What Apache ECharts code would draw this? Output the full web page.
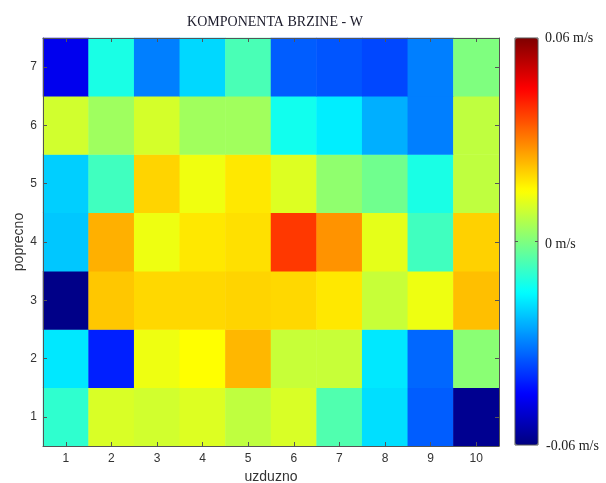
<!DOCTYPE html>
<html>
<head>
<meta charset="utf-8">
<script src="https://cdn.jsdelivr.net/npm/echarts@6/dist/echarts.min.js"></script>
<style>
  html, body { margin: 0; padding: 0; background: #fff; }
  #chart { width: 606px; height: 483px; }
</style>
</head>
<body>
<div id="chart"></div>
<script>
// Longitudinal (uzduzno) and transverse (poprecno) cell indices
const xCats = ['1', '2', '3', '4', '5', '6', '7', '8', '9', '10'];
const yCats = ['1', '2', '3', '4', '5', '6', '7'];

// W velocity component per transverse row, m/s (columns 1..10)
const row1 = [-0.0094, 0.0105, 0.0096, 0.0110, 0.0075, 0.0105, -0.0056, -0.0187, -0.0340, -0.0580];
const row2 = [-0.0177, -0.0413, 0.0130, 0.0150, 0.0234, 0.0084, 0.0084, -0.0177, -0.0328, 0.0013];
const row3 = [-0.0590, 0.0216, 0.0196, 0.0196, 0.0200, 0.0196, 0.0177, 0.0084, 0.0130, 0.0225];
const row4 = [-0.0216, 0.0243, 0.0130, 0.0177, 0.0186, 0.0384, 0.0276, 0.0120, -0.0075, 0.0204];
const row5 = [-0.0206, -0.0075, 0.0200, 0.0132, 0.0177, 0.0110, 0.0020, -0.0018, -0.0120, 0.0075];
const row6 = [0.0096, 0.0038, 0.0100, 0.0040, 0.0040, -0.0130, -0.0170, -0.0244, -0.0300, 0.0075];
const row7 = [-0.0470, -0.0120, -0.0300, -0.0196, -0.0064, -0.0340, -0.0350, -0.0366, -0.0300, 0.0000];

// Colour scale limits and labels
const vMin = -0.06;
const vMax = 0.06;
const scaleLabels = ['0.06 m/s', '0 m/s', '-0.06 m/s'];

// MATLAB "jet" colormap stops
const jet = ['#00007f', '#0000ff', '#007fff', '#00ffff', '#7fff7f',
             '#ffff00', '#ff7f00', '#ff0000', '#7f0000'];

const rows = [row1, row2, row3, row4, row5, row6, row7];
const cells = [];
rows.forEach((row, yi) => row.forEach((v, xi) => cells.push([xi, yi, v])));

const grid = { left: 43, top: 38, width: 456, height: 408 };
const bar = { left: 515, top: 38, width: 23, height: 407 };
const axisCol = '#555';
const serif = '"Liberation Serif", "DejaVu Serif", serif';
const sans = '"Liberation Sans", Arial, sans-serif';

const tickIn = { show: true, inside: true, length: 4, alignWithLabel: true,
                 lineStyle: { color: axisCol, width: 1 } };
const line = { show: true, lineStyle: { color: axisCol, width: 1 } };
const barLabel = { fontFamily: serif, fontSize: 14, fill: '#222', verticalAlign: 'middle' };

const chart = echarts.init(document.getElementById('chart'), null, { renderer: 'canvas' });
chart.setOption({
  animation: false,
  backgroundColor: '#fff',
  title: {
    text: 'KOMPONENTA BRZINE - W',
    left: 270, top: 10, textAlign: 'center',
    textStyle: { fontFamily: serif, fontSize: 14, fontWeight: 'normal', color: '#1a1a2a' }
  },
  grid: Object.assign({ containLabel: false, outerBoundsMode: 'none' }, grid),
  xAxis: [{
    type: 'category', data: xCats, position: 'bottom', z: 10,
    name: 'uzduzno', nameLocation: 'middle', nameGap: 23,
    nameTextStyle: { fontFamily: sans, fontSize: 14, color: '#333' },
    axisLine: line, axisTick: tickIn,
    axisLabel: { fontFamily: sans, fontSize: 12, color: '#333', margin: 7 },
    splitLine: { show: false }
  }, {
    type: 'category', data: xCats, position: 'top', z: 10,
    axisLine: line, axisTick: tickIn, axisLabel: { show: false }, splitLine: { show: false }
  }],
  yAxis: [{
    type: 'category', data: yCats, position: 'left', z: 10,
    name: 'poprecno', nameLocation: 'middle', nameGap: 17, nameRotate: 90,
    nameMoveOverlap: false,
    nameTextStyle: { fontFamily: sans, fontSize: 14, color: '#333' },
    axisLine: line, axisTick: tickIn,
    axisLabel: { fontFamily: sans, fontSize: 12, color: '#333', margin: 6 },
    splitLine: { show: false }
  }, {
    type: 'category', data: yCats, position: 'right', z: 10,
    axisLine: line, axisTick: tickIn, axisLabel: { show: false }, splitLine: { show: false }
  }],
  visualMap: {
    type: 'continuous', min: vMin, max: vMax, calculable: false,
    orient: 'vertical', left: bar.left, top: bar.top,
    itemWidth: bar.width, itemHeight: bar.height,
    text: null, showLabel: false, hoverLink: false, realtime: false,
    padding: 0,
    inRange: { color: jet }
  },
  series: [{
    type: 'heatmap',
    data: cells,
    emphasis: { disabled: true },
    itemStyle: { borderWidth: 0 }
  }],
  graphic: [
    { type: 'rect', silent: true, z: 100,
      shape: { x: bar.left, y: bar.top, width: bar.width, height: bar.height },
      style: { fill: null, stroke: '#555', lineWidth: 1 } },
    { type: 'line', silent: true, z: 100,
      shape: { x1: bar.left, y1: bar.top + bar.height / 2, x2: bar.left + 3, y2: bar.top + bar.height / 2 },
      style: { stroke: '#555', lineWidth: 1 } },
    { type: 'line', silent: true, z: 100,
      shape: { x1: bar.left + bar.width - 3, y1: bar.top + bar.height / 2, x2: bar.left + bar.width, y2: bar.top + bar.height / 2 },
      style: { stroke: '#555', lineWidth: 1 } },
    { type: 'text', silent: true, z: 100, x: 545, y: 38,
      style: Object.assign({ text: scaleLabels[0] }, barLabel) },
    { type: 'text', silent: true, z: 100, x: 545, y: 244,
      style: Object.assign({ text: scaleLabels[1] }, barLabel) },
    { type: 'text', silent: true, z: 100, x: 546, y: 446,
      style: Object.assign({ text: scaleLabels[2] }, barLabel) }
  ]
});
</script>
</body>
</html>
